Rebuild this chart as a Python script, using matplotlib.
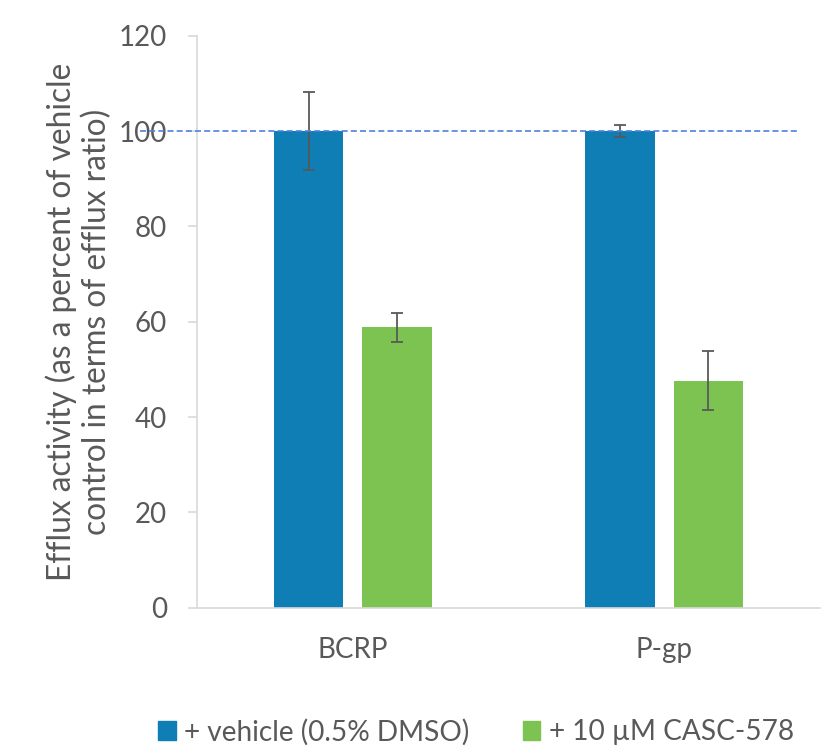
import numpy as np
import matplotlib
matplotlib.use("Agg")
import matplotlib.pyplot as plt
from matplotlib.patches import Patch

plt.rcParams['font.family'] = ['Lato', 'DejaVu Sans']

# efflux ratio relative to vehicle control (%), with error bars
transporters = ['BCRP', 'P-gp']
vehicle = [100.0, 100.0]
vehicle_err = [8.1, 1.35]
casc = [58.8, 47.6]
casc_err = [3.0, 6.15]
series_names = ['+ vehicle (0.5% DMSO)', '+ 10 \u00b5M CASC-578']
yticks = [0, 20, 40, 60, 80, 100, 120]

blue = '#0F7EB5'
green = '#7DC351'
grey = '#595959'
axis_grey = '#D9D9D9'

fig = plt.figure(figsize=(8.31, 7.49), dpi=100)
ax = fig.add_axes([197 / 831, 1 - 607.7 / 749, 623 / 831, 572 / 749])

x = np.arange(len(transporters))
w = 0.224
off = 0.142
err_kw = dict(ecolor=grey, elinewidth=1.3, capsize=4.5, capthick=1.3)
ax.bar(x - off, vehicle, w, color=blue, yerr=vehicle_err, error_kw=err_kw, zorder=2)
ax.bar(x + off, casc, w, color=green, yerr=casc_err, error_kw=err_kw, zorder=2)

# reference line at 100 %
ax.axhline(100, xmin=-0.0915, xmax=0.968, clip_on=False, color='#4F82DC',
           lw=1.2, ls=(0, (3.6, 1.9)), zorder=3)

ax.set_xlim(-0.5, 1.5)
ax.set_ylim(0, 120)
ax.set_yticks(yticks)
ax.set_xticks(x)
ax.set_xticklabels(transporters)

for s in ['top', 'right']:
    ax.spines[s].set_visible(False)
for s in ['left', 'bottom']:
    ax.spines[s].set_color(axis_grey)
    ax.spines[s].set_linewidth(1.2)

ax.tick_params(axis='y', length=6.5, width=1.2, color=axis_grey, pad=15,
               labelsize=20, labelcolor=grey)
ax.tick_params(axis='x', length=0, pad=21, labelsize=20, labelcolor=grey)

ax.set_ylabel('Efflux activity (as a percent of vehicle\ncontrol in terms of efflux ratio)',
              fontsize=22.8, color=grey, va='center', linespacing=1.2)
ax.yaxis.set_label_coords(-0.19, 0.5)

handles = [Patch(color=blue), Patch(color=green)]
fig.legend(handles, series_names, loc='center', ncol=2,
           bbox_to_anchor=(476 / 831, 1 - 732 / 749), frameon=False,
           fontsize=20.2, labelcolor=grey, handlelength=0.63, handleheight=0.63,
           handletextpad=0.3, columnspacing=1.9)

fig.savefig('out.png', dpi=100)
